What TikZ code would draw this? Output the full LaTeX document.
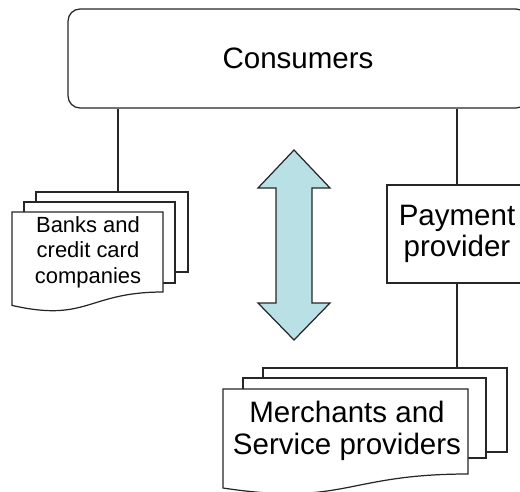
\documentclass[tikz,border=0pt]{standalone}
\usepackage{fontspec}
\setmainfont{Liberation Sans}
\definecolor{arrowblue}{RGB}{185,224,228}
\begin{document}
\begin{tikzpicture}[x=0.02cm,y=-0.02cm,
  page/.style={draw=black!85,fill=white,line width=0.7pt},
  link/.style={draw=black!85,line width=0.7pt},
  bigtext/.style={font=\fontsize{16.8}{18}\selectfont,align=center},
  smalltext/.style={font=\fontsize{12.5}{14.5}\selectfont,align=center}]
\useasboundingbox (0,0) rectangle (520,491);
\clip (0,0) rectangle (520,491);
\node[page,bigtext,rounded corners=6.8pt,minimum width=9.2cm,minimum height=1.98cm] (cons) at (298,58.5) {Consumers};
\node[page,bigtext,minimum width=2.8cm,minimum height=1.96cm] (pay) at (457,234) {Payment\\provider};
% banks and credit card companies
\draw[page] (36,192) rectangle (188,272);
\draw[page] (24,202) rectangle (175,283);
\draw[page] (12,212) -- (163,212) -- (163,292) .. controls (87.5,292) and (87.5,322.7) .. (12,305.4) -- cycle;
\node[smalltext] (banks) at (88,252) {Banks and\\credit card\\companies};
% merchants and service providers
\draw[page] (263,368) rectangle (507,452);
\draw[page] (243,378) rectangle (486,458);
\draw[page] (223,389) -- (468,389) -- (468,474) .. controls (345.5,474) and (345.5,506.4) .. (223,488) -- cycle;
\node[bigtext] (merch) at (347,431) {Merchants and\\Service providers};
% double arrow
\draw[link,fill=arrowblue] (294,150) -- (330,188) -- (312,188) -- (312,303) -- (330,303) -- (294,340) -- (258,303) -- (276,303) -- (276,188) -- (258,188) -- cycle;
% connectors
\coordinate (bankstop) at (118,192);
\coordinate (merchtop) at (457,368);
\draw[link] (cons.south -| bankstop) -- (bankstop);
\draw[link] (cons.south -| pay.north) -- (pay.north);
\draw[link] (pay.south) -- (merchtop);
\end{tikzpicture}
\end{document}
